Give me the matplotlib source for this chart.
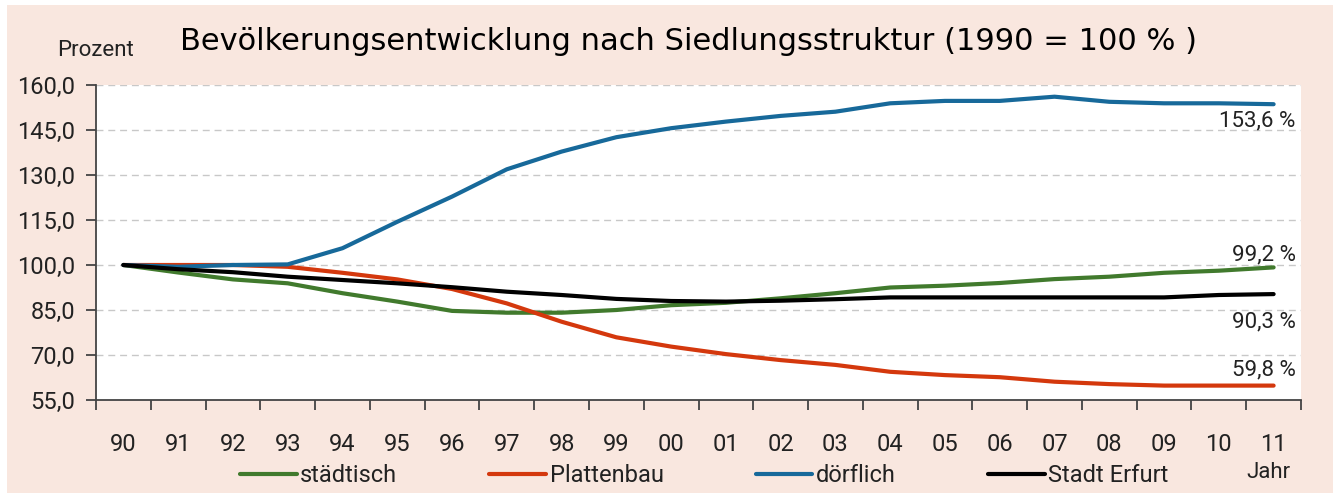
import matplotlib
matplotlib.use('Agg')
import matplotlib.pyplot as plt
from matplotlib.patches import Rectangle

# Data (1990 = 100 %)
years = ['90', '91', '92', '93', '94', '95', '96', '97', '98', '99', '00',
         '01', '02', '03', '04', '05', '06', '07', '08', '09', '10', '11']
staedtisch = [100.0, 97.5, 95.2, 93.9, 90.6, 87.8, 84.7, 84.1, 84.1, 85.0, 86.6,
              87.4, 88.9, 90.6, 92.5, 93.1, 94.0, 95.3, 96.1, 97.4, 98.1, 99.2]
plattenbau = [100.0, 100.0, 100.0, 99.4, 97.4, 95.2, 92.0, 87.2, 81.1, 75.9, 72.8,
              70.3, 68.3, 66.7, 64.4, 63.3, 62.6, 61.1, 60.3, 59.8, 59.8, 59.8]
doerflich = [100.0, 99.4, 100.0, 100.2, 105.6, 114.4, 122.8, 131.9, 137.8, 142.6, 145.6,
             147.8, 149.7, 151.1, 153.9, 154.7, 154.7, 156.1, 154.4, 153.9, 153.9, 153.6]
erfurt = [100.0, 98.6, 97.6, 96.1, 95.0, 93.9, 92.6, 91.1, 90.0, 88.7, 88.0,
          87.8, 88.1, 88.6, 89.2, 89.2, 89.2, 89.2, 89.2, 89.2, 90.0, 90.3]
end_labels = ['153,6 %', '99,2 %', '90,3 %', '59,8 %']
y_ticks = [55, 70, 85, 100, 115, 130, 145, 160]

GREEN = '#417a2d'
RED = '#d4380d'
BLUE = '#17699a'
PINK = '#f9e7df'

plt.rcParams['font.family'] = ['Roboto', 'DejaVu Sans']

W, H = 1335, 495
fig = plt.figure(figsize=(W / 100, H / 100), dpi=100, facecolor='white')
fig.patches.append(Rectangle((7 / W, 0.005), 1326 / W, 1 - 5 / H - 0.005,
                             transform=fig.transFigure, facecolor=PINK,
                             edgecolor='none', zorder=-10))

ax = fig.add_axes([96 / W, 1 - 400 / H, (1301 - 96) / W, (400 - 85) / H])
ax.set_facecolor('white')

x = list(range(len(years)))
series = [(staedtisch, GREEN, 'städtisch'), (plattenbau, RED, 'Plattenbau'),
          (doerflich, BLUE, 'dörflich'), (erfurt, 'black', 'Stadt Erfurt')]
for vals, col, lab in series:
    ax.plot(x, vals, color=col, lw=3, label=lab, solid_capstyle='round', zorder=3)

ax.set_xlim(-0.5, len(years) - 0.5)
ax.set_ylim(55, 160)
ax.set_yticks(y_ticks)
ax.set_yticklabels([f'{v},0' for v in y_ticks])
for v in y_ticks[1:]:
    ax.axhline(v, color='#c8c8c8', lw=1.0, ls=(0, (5, 3.5)), zorder=1)

ax.set_xticks(x)
ax.set_xticklabels(years)
ax.set_xticks([i - 0.5 for i in range(len(years) + 1)], minor=True)
ax.tick_params(axis='x', which='major', length=0, pad=24, labelsize=17, colors='#222222')
ax.tick_params(axis='x', which='minor', length=7, width=1.3, color='#444444', direction='out')
ax.tick_params(axis='y', length=7, width=1.3, color='#444444', pad=8, labelsize=17,
               labelcolor='#222222')

for s in ['top', 'right']:
    ax.spines[s].set_visible(False)
for s in ['left', 'bottom']:
    ax.spines[s].set_color('#444444')
    ax.spines[s].set_linewidth(1.3)

# end labels
label_y = [148.0, 103.2, 81.0, 65.0]
for txt, yy in zip(end_labels, label_y):
    ax.text(21.4, yy, txt, ha='right', va='center', fontsize=16, color='#222222')

fig.text(57 / W, 1 - 50 / H, 'Prozent', ha='left', va='center', fontsize=16, color='#222222')
fig.text(180 / W, 1 - 42 / H, 'Bevölkerungsentwicklung nach Siedlungsstruktur (1990 = 100 % )',
         ha='left', va='center', fontsize=22, color='black', family=['DejaVu Sans'])
fig.text(1268 / W, 1 - 472 / H, 'Jahr', ha='center', va='center', fontsize=16, color='#222222')

leg = fig.legend(loc='center left', bbox_to_anchor=(240 / W, 1 - 476 / H), ncol=4, frameon=False,
                 fontsize=17, handlelength=2.4, handletextpad=0.15, columnspacing=3.9,
                 borderpad=0, borderaxespad=0)
for t in leg.get_texts():
    t.set_color('#222222')

fig.savefig('out.png', dpi=100, facecolor=fig.get_facecolor())
